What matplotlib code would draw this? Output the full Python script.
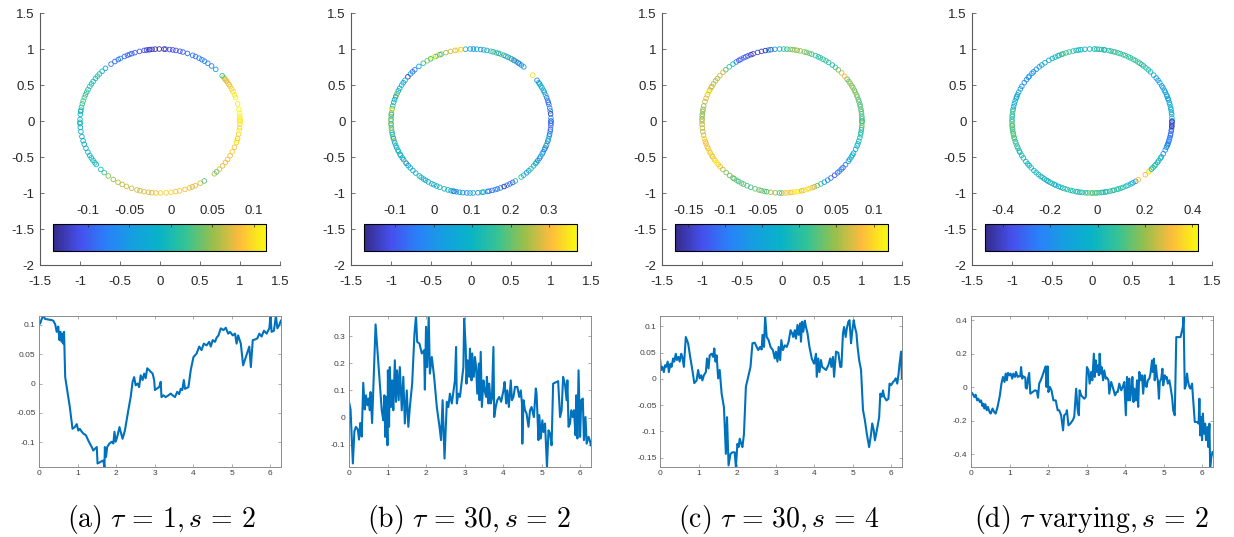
# circle embedding of eigenvector values, four settings
import numpy as np
import matplotlib
matplotlib.use("Agg")
import matplotlib.pyplot as plt
from matplotlib.colors import LinearSegmentedColormap, Normalize
from matplotlib.cm import ScalarMappable
from matplotlib.ticker import FuncFormatter

plt.rcParams['mathtext.fontset'] = 'cm'
plt.rcParams['axes.unicode_minus'] = False
plt.rcParams['font.family'] = ['Liberation Sans', 'DejaVu Sans']

# (a) tau = 1, s = 2
theta_a = [0.00, 0.03, 0.07, 0.11, 0.16, 0.24, 0.33, 0.37, 0.42, 0.46,
           0.50, 0.53, 0.56, 0.59, 0.61, 0.63, 0.65, 0.68, 0.80, 0.87,
           0.93, 0.98, 1.02, 1.06, 1.11, 1.15, 1.22, 1.28, 1.32, 1.37,
           1.41, 1.45, 1.50, 1.52, 1.58, 1.63, 1.67, 1.70, 1.71, 1.74,
           1.77, 1.83, 1.89, 1.93, 1.96, 1.99, 2.03, 2.09, 2.12, 2.17,
           2.23, 2.32, 2.38, 2.43, 2.47, 2.51, 2.56, 2.60, 2.64, 2.69,
           2.73, 2.77, 2.81, 2.86, 2.90, 2.95, 2.99, 3.01, 3.05, 3.12,
           3.16, 3.18, 3.23, 3.29, 3.36, 3.42, 3.47, 3.53, 3.59, 3.64,
           3.68, 3.72, 3.76, 3.79, 3.88, 3.94, 4.01, 4.09, 4.16, 4.22,
           4.28, 4.35, 4.42, 4.46, 4.51, 4.57, 4.61, 4.66, 4.72, 4.79,
           4.85, 4.91, 4.96, 5.03, 5.09, 5.13, 5.17, 5.24, 5.30, 5.46,
           5.50, 5.55, 5.61, 5.67, 5.72, 5.78, 5.84, 5.91, 5.98, 6.01,
           6.04, 6.10, 6.15, 6.19, 6.24, 6.28]
val_a = [0.105, 0.102, 0.110, 0.115, 0.110, 0.109, 0.108, 0.107, 0.101, 0.088,
         0.097, 0.074, 0.088, 0.071, 0.085, 0.068, 0.088, 0.011, -0.040, -0.077,
         -0.074, -0.069, -0.080, -0.077, -0.082, -0.085, -0.088, -0.097, -0.102, -0.108,
         -0.114, -0.111, -0.108, -0.136, -0.134, -0.132, -0.131, -0.142, -0.108, -0.125,
         -0.108, -0.102, -0.099, -0.102, -0.082, -0.099, -0.091, -0.074, -0.082, -0.094,
         -0.080, -0.045, -0.023, 0.003, 0.011, -0.003, 0.000, -0.006, 0.014, 0.006,
         0.017, 0.009, 0.026, 0.023, 0.020, 0.017, 0.006, -0.011, -0.009, -0.006,
         0.003, -0.023, -0.020, -0.023, -0.020, -0.017, -0.020, -0.023, -0.014, -0.018,
         -0.009, -0.011, 0.006, -0.009, -0.006, 0.023, 0.045, 0.051, 0.063, 0.057,
         0.068, 0.065, 0.071, 0.063, 0.074, 0.071, 0.078, 0.082, 0.094, 0.091,
         0.095, 0.085, 0.088, 0.082, 0.085, 0.068, 0.082, 0.068, 0.031, 0.063,
         0.028, 0.074, 0.075, 0.077, 0.085, 0.080, 0.090, 0.085, 0.094, 0.115,
         0.088, 0.090, 0.115, 0.094, 0.100, 0.107]

# (b) tau = 30, s = 2
theta_b = [0.00, 0.04, 0.10, 0.14, 0.18, 0.23, 0.26, 0.29, 0.33, 0.37,
           0.41, 0.44, 0.48, 0.51, 0.54, 0.56, 0.60, 0.69, 0.85, 0.89,
           0.92, 0.94, 0.97, 1.00, 1.01, 1.04, 1.06, 1.09, 1.12, 1.15,
           1.19, 1.22, 1.25, 1.29, 1.32, 1.37, 1.41, 1.45, 1.50, 1.54,
           1.58, 1.64, 1.70, 1.74, 1.77, 1.83, 1.89, 1.95, 1.97, 2.00,
           2.03, 2.07, 2.10, 2.15, 2.21, 2.28, 2.35, 2.39, 2.43, 2.48,
           2.54, 2.58, 2.62, 2.67, 2.71, 2.75, 2.78, 2.80, 2.84, 2.88,
           2.93, 2.97, 2.99, 3.03, 3.05, 3.08, 3.12, 3.14, 3.18, 3.20,
           3.24, 3.27, 3.30, 3.33, 3.37, 3.39, 3.42, 3.45, 3.49, 3.52,
           3.56, 3.58, 3.62, 3.64, 3.68, 3.71, 3.75, 3.77, 3.81, 3.85,
           3.90, 3.95, 4.01, 4.04, 4.08, 4.11, 4.15, 4.20, 4.23, 4.27,
           4.31, 4.37, 4.42, 4.46, 4.49, 4.50, 4.53, 4.57, 4.61, 4.66,
           4.70, 4.74, 4.80, 4.85, 4.87, 4.92, 4.94, 4.98, 5.02, 5.05,
           5.09, 5.14, 5.18, 5.22, 5.26, 5.30, 5.39, 5.43, 5.48, 5.52,
           5.56, 5.61, 5.65, 5.67, 5.70, 5.74, 5.77, 5.81, 5.84, 5.88,
           5.90, 5.93, 5.96, 6.00, 6.03, 6.07, 6.10, 6.14, 6.17, 6.22,
           6.25, 6.28]
val_b = [0.058, 0.030, -0.169, -0.050, -0.034, -0.045, -0.081, -0.020, -0.070, 0.128,
         0.030, 0.082, 0.045, 0.070, 0.027, 0.094, -0.020, 0.343, 0.027, -0.010,
         0.082, -0.071, 0.076, -0.102, 0.174, -0.034, 0.186, 0.039, 0.137, 0.027,
         0.211, 0.058, 0.174, 0.064, 0.186, 0.027, 0.150, -0.022, 0.100, -0.034,
         0.039, 0.125, 0.309, 0.374, 0.279, 0.272, 0.236, 0.248, 0.103, 0.334,
         0.186, 0.374, 0.162, 0.223, 0.150, 0.039, -0.034, -0.083, 0.064, -0.151,
         0.058, 0.039, 0.088, 0.052, 0.094, 0.137, 0.260, 0.052, 0.088, 0.076,
         0.137, 0.186, 0.364, 0.260, 0.125, 0.211, 0.150, 0.254, 0.137, 0.236,
         0.150, 0.223, 0.186, 0.088, 0.199, 0.064, 0.242, 0.039, 0.137, 0.100,
         0.076, 0.150, 0.052, 0.125, 0.052, 0.070, 0.260, 0.002, 0.039, 0.064,
         0.076, 0.058, 0.100, 0.131, 0.052, 0.100, 0.039, 0.137, 0.064, 0.076,
         0.113, 0.113, 0.076, 0.100, 0.052, -0.096, 0.064, 0.027, 0.015, -0.034,
         0.027, 0.039, 0.002, 0.107, 0.088, -0.083, 0.009, -0.077, -0.010, -0.053,
         -0.022, -0.182, -0.047, -0.059, -0.102, 0.125, 0.131, 0.134, 0.002, 0.027,
         0.150, 0.119, 0.064, 0.137, -0.034, -0.022, 0.027, 0.002, 0.027, -0.065,
         0.082, -0.077, 0.174, -0.071, 0.064, 0.070, -0.083, 0.002, -0.096, -0.071,
         -0.083, -0.102]

# (c) tau = 30, s = 4
theta_c = [0.00, 0.03, 0.06, 0.10, 0.13, 0.16, 0.20, 0.23, 0.27, 0.30,
           0.34, 0.37, 0.41, 0.44, 0.48, 0.51, 0.55, 0.58, 0.62, 0.67,
           0.73, 0.79, 0.84, 0.89, 0.95, 0.99, 1.03, 1.07, 1.10, 1.14,
           1.19, 1.22, 1.26, 1.29, 1.34, 1.38, 1.41, 1.44, 1.47, 1.51,
           1.55, 1.60, 1.66, 1.71, 1.74, 1.78, 1.83, 1.88, 1.94, 1.97,
           2.01, 2.04, 2.07, 2.11, 2.14, 2.18, 2.23, 2.29, 2.35, 2.40,
           2.46, 2.51, 2.55, 2.60, 2.64, 2.66, 2.70, 2.73, 2.77, 2.82,
           2.87, 2.93, 2.98, 3.01, 3.05, 3.08, 3.12, 3.15, 3.19, 3.24,
           3.29, 3.34, 3.39, 3.43, 3.46, 3.50, 3.53, 3.57, 3.60, 3.64,
           3.66, 3.69, 3.72, 3.76, 3.79, 3.83, 3.88, 3.94, 4.00, 4.05,
           4.07, 4.11, 4.14, 4.18, 4.21, 4.26, 4.31, 4.37, 4.42, 4.45,
           4.49, 4.52, 4.57, 4.63, 4.68, 4.71, 4.75, 4.78, 4.82, 4.85,
           4.89, 4.92, 4.96, 4.99, 5.03, 5.06, 5.10, 5.13, 5.17, 5.22,
           5.27, 5.32, 5.37, 5.43, 5.48, 5.51, 5.55, 5.58, 5.63, 5.69,
           5.72, 5.76, 5.79, 5.82, 5.88, 5.93, 5.96, 6.00, 6.05, 6.09,
           6.12, 6.16, 6.19, 6.22, 6.26, 6.28]
val_c = [0.039, 0.017, 0.023, 0.013, 0.026, 0.023, 0.033, 0.013, 0.029, 0.023,
         0.039, 0.033, 0.048, 0.036, 0.042, 0.033, 0.048, 0.042, 0.023, 0.080,
         0.068, 0.039, 0.017, -0.008, -0.003, 0.017, 0.001, 0.007, -0.003, 0.007,
         0.013, 0.039, 0.020, 0.045, 0.048, 0.042, 0.058, 0.033, 0.045, 0.001,
         0.017, -0.028, -0.054, -0.143, -0.073, -0.165, -0.143, -0.140, -0.140, -0.168,
         -0.124, -0.130, -0.114, -0.124, -0.130, -0.105, -0.015, 0.004, 0.023, 0.068,
         0.069, 0.061, 0.055, 0.061, 0.056, 0.084, 0.061, 0.120, 0.080, 0.074,
         0.061, 0.055, 0.039, 0.052, 0.033, 0.061, 0.036, 0.074, 0.055, 0.064,
         0.061, 0.071, 0.093, 0.087, 0.080, 0.093, 0.077, 0.103, 0.084, 0.106,
         0.071, 0.109, 0.090, 0.111, 0.099, 0.087, 0.061, 0.039, 0.029, 0.048,
         0.004, 0.039, 0.013, 0.036, 0.023, 0.020, 0.017, 0.026, 0.039, 0.023,
         0.042, 0.004, 0.052, 0.050, 0.023, 0.023, 0.087, 0.099, 0.080, 0.096,
         0.109, 0.112, 0.068, 0.090, 0.112, 0.099, 0.087, 0.061, 0.036, 0.017,
         -0.059, -0.079, -0.105, -0.130, -0.105, -0.085, -0.098, -0.117, -0.098, -0.073,
         -0.028, -0.034, -0.022, -0.034, -0.041, -0.038, -0.009, -0.012, -0.006, -0.003,
         0.001, -0.009, 0.007, 0.029, 0.052, 0.001]

# (d) tau varying, s = 2
theta_d = [0.00, 0.04, 0.09, 0.12, 0.16, 0.19, 0.23, 0.26, 0.30, 0.32,
           0.35, 0.37, 0.41, 0.44, 0.48, 0.51, 0.56, 0.60, 0.64, 0.69,
           0.75, 0.79, 0.83, 0.87, 0.90, 0.93, 0.96, 1.00, 1.03, 1.07,
           1.10, 1.14, 1.17, 1.21, 1.24, 1.28, 1.30, 1.33, 1.36, 1.41,
           1.42, 1.45, 1.48, 1.51, 1.54, 1.60, 1.66, 1.71, 1.74, 1.77,
           1.81, 1.86, 1.90, 1.94, 1.96, 1.99, 2.01, 2.05, 2.09, 2.14,
           2.20, 2.25, 2.29, 2.34, 2.39, 2.42, 2.47, 2.49, 2.53, 2.58,
           2.64, 2.68, 2.73, 2.77, 2.80, 2.82, 2.86, 2.90, 2.94, 2.98,
           3.01, 3.05, 3.08, 3.12, 3.15, 3.19, 3.21, 3.24, 3.26, 3.29,
           3.32, 3.34, 3.37, 3.39, 3.43, 3.46, 3.50, 3.53, 3.57, 3.59,
           3.64, 3.68, 3.74, 3.78, 3.81, 3.85, 3.90, 3.94, 3.98, 4.02,
           4.05, 4.08, 4.11, 4.13, 4.16, 4.19, 4.22, 4.24, 4.28, 4.31,
           4.34, 4.37, 4.40, 4.44, 4.47, 4.51, 4.53, 4.56, 4.59, 4.63,
           4.66, 4.70, 4.72, 4.75, 4.77, 4.80, 4.83, 4.85, 4.88, 4.90,
           4.94, 4.97, 4.99, 5.03, 5.05, 5.08, 5.11, 5.15, 5.18, 5.22,
           5.25, 5.29, 5.33, 5.44, 5.50, 5.52, 5.55, 5.58, 5.61, 5.63,
           5.67, 5.70, 5.74, 5.76, 5.81, 5.87, 5.91, 5.93, 5.95, 5.97,
           6.00, 6.02, 6.05, 6.08, 6.10, 6.14, 6.16, 6.19, 6.21, 6.24,
           6.27, 6.28]
val_d = [-0.028, -0.038, -0.058, -0.044, -0.078, -0.068, -0.088, -0.078, -0.113, -0.098,
         -0.127, -0.101, -0.137, -0.117, -0.147, -0.157, -0.127, -0.147, -0.157, -0.117,
         -0.048, 0.022, 0.062, 0.032, 0.082, 0.042, 0.086, 0.072, 0.082, 0.052,
         0.082, 0.062, 0.092, 0.062, 0.066, 0.066, 0.121, 0.052, 0.066, 0.058,
         -0.002, -0.008, 0.052, 0.086, -0.038, -0.028, -0.018, -0.022, -0.062, 0.022,
         0.042, 0.072, 0.101, 0.125, 0.002, 0.125, -0.028, 0.002, -0.018, -0.078,
         -0.078, -0.137, -0.137, -0.167, -0.257, -0.167, -0.157, -0.137, -0.227, -0.217,
         -0.197, -0.177, -0.008, -0.137, -0.167, -0.018, -0.048, -0.058, -0.068, -0.058,
         0.121, 0.101, 0.022, 0.092, 0.042, 0.201, 0.062, 0.161, 0.092, 0.131,
         0.072, 0.201, 0.082, 0.121, 0.042, 0.101, 0.052, 0.058, 0.042, -0.038,
         0.032, 0.002, -0.048, -0.028, -0.028, 0.022, -0.018, 0.002, 0.032, -0.167,
         0.062, -0.078, 0.052, -0.078, -0.028, 0.062, -0.088, -0.008, -0.078, 0.042,
         -0.117, 0.092, 0.042, 0.072, -0.038, 0.072, 0.012, 0.002, 0.042, 0.052,
         0.082, 0.161, 0.092, 0.171, 0.042, 0.131, 0.062, 0.042, -0.068, 0.032,
         0.052, 0.111, 0.012, 0.072, 0.052, 0.062, 0.022, 0.042, 0.002, -0.058,
         -0.137, -0.167, 0.300, 0.300, 0.360, 0.426, -0.008, 0.012, 0.082, 0.042,
         0.002, -0.008, 0.022, -0.048, -0.207, -0.207, -0.217, -0.068, -0.287, -0.177,
         -0.316, -0.157, -0.277, -0.217, -0.316, -0.237, -0.356, -0.217, -0.476, -0.416,
         -0.386, -0.386]

thetas = [theta_a, theta_b, theta_c, theta_d]
values = [val_a, val_b, val_c, val_d]
val_ticks = [[-0.1, -0.05, 0, 0.05, 0.1],
             [-0.1, 0, 0.1, 0.2, 0.3],
             [-0.15, -0.1, -0.05, 0, 0.05, 0.1],
             [-0.4, -0.2, 0, 0.2, 0.4]]
captions = [r'$\mathrm{(a)}\ \tau\,=\,1, s\,=\,2$',
            r'$\mathrm{(b)}\ \tau\,=\,30, s\,=\,2$',
            r'$\mathrm{(c)}\ \tau\,=\,30, s\,=\,4$',
            r'$\mathrm{(d)}\ \tau\;\mathrm{varying}, s\,=\,2$']

# approximation of MATLAB parula
parula = LinearSegmentedColormap.from_list('parula', [
    (0.000, (0.208, 0.166, 0.529)),
    (0.125, (0.275, 0.310, 0.930)),
    (0.250, (0.165, 0.500, 0.975)),
    (0.375, (0.080, 0.625, 0.880)),
    (0.500, (0.030, 0.705, 0.780)),
    (0.625, (0.210, 0.765, 0.585)),
    (0.750, (0.590, 0.750, 0.300)),
    (0.875, (0.990, 0.735, 0.240)),
    (1.000, (0.976, 0.983, 0.054))])

gfmt = FuncFormatter(lambda v, p: '%g' % v)

W, H = 1234.0, 537.0
top_left = [40, 351, 662, 972]
bot_left = [39, 349, 660, 971]
cap_x = [161, 469, 779, 1091]
line_col = '#0072BD'
ax_col = '#5a5a5a'

fig = plt.figure(figsize=(12.34, 5.37), dpi=100)

for i in range(4):
    th = np.array(thetas[i])
    v = np.array(values[i])
    norm = Normalize(v.min(), v.max())

    # circle with coloured markers
    ax = fig.add_axes([top_left[i]/W, (H-265)/H, 240/W, 252/H])
    ax.scatter(np.cos(th), np.sin(th), s=11, facecolors='none',
               edgecolors=parula(norm(v)), linewidths=0.6)
    ax.set_xlim(-1.5, 1.5)
    ax.set_ylim(-2, 1.5)
    ax.set_xticks([-1.5, -1, -0.5, 0, 0.5, 1, 1.5])
    ax.set_yticks([-2, -1.5, -1, -0.5, 0, 0.5, 1, 1.5])
    ax.xaxis.set_major_formatter(gfmt)
    ax.yaxis.set_major_formatter(gfmt)
    for side in ['top', 'right']:
        ax.spines[side].set_visible(False)
    for side in ['left', 'bottom']:
        ax.spines[side].set_color(ax_col)
        ax.spines[side].set_linewidth(0.8)
    ax.tick_params(direction='in', length=3, width=0.6, colors=ax_col,
                   labelcolor='#262626', labelsize=9.5)
    ax.tick_params(axis='x', pad=8)
    ax.tick_params(axis='y', pad=4)

    cax = ax.inset_axes([-1.34, -1.80, 2.67, 0.365], transform=ax.transData)
    cb = fig.colorbar(ScalarMappable(norm=norm, cmap=parula), cax=cax,
                      orientation='horizontal', ticks=val_ticks[i], format=gfmt)
    cax.xaxis.set_ticks_position('top')
    cax.xaxis.set_label_position('top')
    cax.tick_params(direction='in', length=2, width=0.5, colors='#262626',
                    labelsize=9.5, pad=5)
    cb.outline.set_edgecolor('black')
    cb.outline.set_linewidth(0.8)

    # values against angle
    bx = fig.add_axes([bot_left[i]/W, (H-467)/H, 242/W, 151/H])
    bx.plot(th, v, color=line_col, lw=1.5)
    bx.set_xlim(0, 2*np.pi)
    bx.set_ylim(v.min(), v.max())
    bx.set_xticks(range(7))
    bx.set_yticks(val_ticks[i])
    bx.yaxis.set_major_formatter(gfmt)
    for side in bx.spines.values():
        side.set_color('#8c8c8c')
        side.set_linewidth(0.7)
    bx.tick_params(direction='in', length=2, width=0.5, colors='#8c8c8c',
                   labelcolor='#404040', labelsize=6, pad=2.5,
                   top=True, right=True)

    fig.text(cap_x[i]/W, 1 - 519/H, captions[i], ha='center', va='center',
             fontsize=20, color='black')

fig.savefig('out.png', dpi=100)
